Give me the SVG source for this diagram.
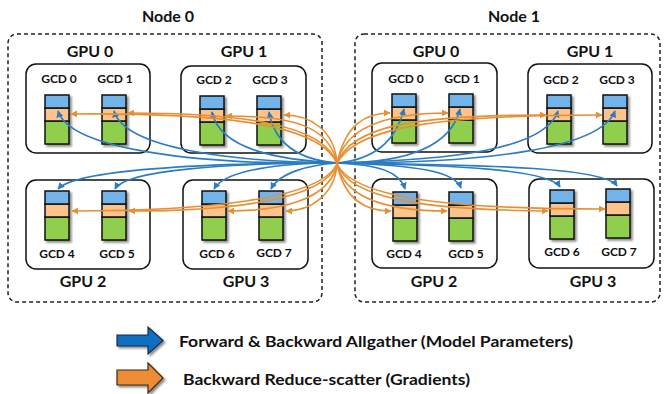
<svg xmlns="http://www.w3.org/2000/svg" width="665" height="394" viewBox="0 0 665 394">
<defs>
<style>
.node{fill:#fff;stroke:#222;stroke-width:1.5;stroke-dasharray:4 3}
.gpu{fill:#fff;stroke:#111;stroke-width:1.5}
.t{font-family:Lato,"Liberation Sans",sans-serif;font-weight:bold;fill:#111;text-anchor:middle}
.tn{font-size:16px}
.tg{font-size:16px}
.tc{font-size:12px}
.tl{font-family:Lato,"Liberation Sans",sans-serif;font-weight:bold;fill:#111;font-size:15px}
.b{fill:#72b4e9;stroke:#111;stroke-width:1.5}
.o{fill:#fcc38c;stroke:#111;stroke-width:1.5}
.g{fill:#8fcf4e;stroke:#111;stroke-width:1.5}
.cb{fill:none;stroke:#2b7cc2;stroke-width:1.6;marker-end:url(#ab)}
.co{fill:none;stroke:#e98f31;stroke-width:1.6;marker-end:url(#ao)}
</style>
<filter id="sh" x="-30%" y="-30%" width="160%" height="160%">
<feDropShadow dx="2" dy="2" stdDeviation="1.2" flood-color="#000" flood-opacity="0.45"/>
</filter>
<marker id="ab" viewBox="0 0 10 10" refX="9" refY="5" markerWidth="7" markerHeight="7" markerUnits="userSpaceOnUse" orient="auto">
<path d="M0,0 L10,5 L0,10 Z" fill="#2b7cc2"/>
</marker>
<marker id="ao" viewBox="0 0 10 10" refX="9" refY="5" markerWidth="7" markerHeight="7" markerUnits="userSpaceOnUse" orient="auto">
<path d="M0,0 L10,5 L0,10 Z" fill="#e98f31"/>
</marker>
<g id="stack">
<rect x="0" y="26" width="24" height="23" class="g"/>
<rect x="0" y="13" width="24" height="13" class="o"/>
<rect x="0" y="0" width="24" height="13" class="b"/>
</g>
</defs>
<rect width="665" height="394" fill="#fff"/>

<g id="node0">
<rect x="8" y="34" width="314" height="268" rx="9" class="node"/>
<text x="168" y="22" class="t tn">Node 0</text>
</g>
<g id="node1">
<rect x="355" y="34" width="305" height="268" rx="9" class="node"/>
<text x="514" y="22" class="t tn">Node 1</text>
</g>

<g id="n0gpu0">
<rect x="26" y="64" width="124" height="89" rx="10" class="gpu"/>
<text x="90" y="57" class="t tg">GPU 0</text>
<text x="59" y="83" class="t tc">GCD 0</text>
<text x="115" y="83" class="t tc">GCD 1</text>
<use href="#stack" x="45" y="95" filter="url(#sh)"/>
<use href="#stack" x="102" y="95" filter="url(#sh)"/>
</g>
<g id="n0gpu1">
<rect x="181" y="66" width="125" height="87" rx="10" class="gpu"/>
<text x="244" y="57" class="t tg">GPU 1</text>
<text x="214" y="84" class="t tc">GCD 2</text>
<text x="270" y="84" class="t tc">GCD 3</text>
<use href="#stack" x="200" y="96" filter="url(#sh)"/>
<use href="#stack" x="257" y="96" filter="url(#sh)"/>
</g>
<g id="n0gpu2">
<rect x="26" y="180" width="124" height="89" rx="10" class="gpu"/>
<text x="83" y="287" class="t tg">GPU 2</text>
<text x="57" y="258" class="t tc">GCD 4</text>
<text x="117" y="258" class="t tc">GCD 5</text>
<use href="#stack" x="45" y="191" filter="url(#sh)"/>
<use href="#stack" x="102" y="191" filter="url(#sh)"/>
</g>
<g id="n0gpu3">
<rect x="183" y="180" width="125" height="89" rx="10" class="gpu"/>
<text x="246" y="287" class="t tg">GPU 3</text>
<text x="217" y="258" class="t tc">GCD 6</text>
<text x="274" y="257" class="t tc">GCD 7</text>
<use href="#stack" x="202" y="191" filter="url(#sh)"/>
<use href="#stack" x="259" y="191" filter="url(#sh)"/>
</g>

<g id="n1gpu0">
<rect x="372" y="63" width="125" height="89" rx="10" class="gpu"/>
<text x="436" y="57" class="t tg">GPU 0</text>
<text x="406" y="83" class="t tc">GCD 0</text>
<text x="462" y="83" class="t tc">GCD 1</text>
<use href="#stack" x="392" y="94" filter="url(#sh)"/>
<use href="#stack" x="449" y="94" filter="url(#sh)"/>
</g>
<g id="n1gpu1">
<rect x="528" y="64" width="124" height="89" rx="10" class="gpu"/>
<text x="590" y="57" class="t tg">GPU 1</text>
<text x="561" y="84" class="t tc">GCD 2</text>
<text x="617" y="84" class="t tc">GCD 3</text>
<use href="#stack" x="547" y="95" filter="url(#sh)"/>
<use href="#stack" x="603" y="95" filter="url(#sh)"/>
</g>
<g id="n1gpu2">
<rect x="372" y="179" width="125" height="89" rx="10" class="gpu"/>
<text x="434" y="287" class="t tg">GPU 2</text>
<text x="404" y="258" class="t tc">GCD 4</text>
<text x="466" y="258" class="t tc">GCD 5</text>
<use href="#stack" x="393" y="192" filter="url(#sh)"/>
<use href="#stack" x="449" y="192" filter="url(#sh)"/>
</g>
<g id="n1gpu3">
<rect x="529" y="179" width="125" height="89" rx="10" class="gpu"/>
<text x="593" y="287" class="t tg">GPU 3</text>
<text x="562" y="256" class="t tc">GCD 6</text>
<text x="619" y="256" class="t tc">GCD 7</text>
<use href="#stack" x="550" y="190" filter="url(#sh)"/>
<use href="#stack" x="606" y="189" filter="url(#sh)"/>
</g>

<g id="connectors">
<path class="cb" d="M337,163 C200,165 70,150 58,111"/>
<path class="cb" d="M337,163 C240,162 125,150 114,111"/>
<path class="cb" d="M337,163 C280,160 220,150 212,112"/>
<path class="cb" d="M337,163 C300,160 275,145 269,112"/>
<path class="cb" d="M337,163 C200,163 75,170 58,189"/>
<path class="cb" d="M337,163 C230,163 125,170 115,189"/>
<path class="cb" d="M337,163 C280,163 225,170 214,189"/>
<path class="cb" d="M337,163 C310,165 280,172 271,189"/>
<path class="cb" d="M337,163 C370,160 395,145 404,109"/>
<path class="cb" d="M337,163 C400,163 450,150 460,109"/>
<path class="cb" d="M337,163 C450,160 545,150 558,111"/>
<path class="cb" d="M337,163 C480,163 600,150 615,111"/>
<path class="cb" d="M337,163 C380,165 400,172 405,189"/>
<path class="cb" d="M337,163 C420,165 455,172 461,188"/>
<path class="cb" d="M337,163 C460,165 550,170 560,187"/>
<path class="cb" d="M337,163 C500,165 605,168 617,186"/>

<path class="co" d="M337,164 C320,120 200,113 71,114"/>
<path class="co" d="M337,164 C325,122 230,113 128,113"/>
<path class="co" d="M337,164 C330,125 290,116 226,116"/>
<path class="co" d="M337,164 C335,130 310,115 284,115"/>
<path class="co" d="M337,164 C320,200 200,211 72,211"/>
<path class="co" d="M337,164 C325,200 230,211 129,211"/>
<path class="co" d="M337,164 C330,200 280,211 228,211"/>
<path class="co" d="M337,164 C335,195 310,211 286,211"/>
<path class="co" d="M337,164 C345,125 365,113 390,113"/>
<path class="co" d="M337,164 C345,125 390,113 448,113"/>
<path class="co" d="M337,164 C350,125 420,115 546,115"/>
<path class="co" d="M337,164 C355,125 450,115 602,115"/>
<path class="co" d="M337,164 C345,200 365,211 391,211"/>
<path class="co" d="M337,164 C345,200 390,211 447,211"/>
<path class="co" d="M337,164 C350,200 430,210 548,211"/>
<path class="co" d="M337,164 C355,200 460,209 605,209"/>
</g>

<g id="legend">
<path d="M117,335 H148 V327 L163,340.5 L148,354 V346 H117 Z" fill="#0a6fc2" stroke="#1b2a44" stroke-width="1.2" filter="url(#sh)"/>
<text x="179" y="347" class="tl" textLength="394" lengthAdjust="spacingAndGlyphs">Forward &amp; Backward Allgather (Model Parameters)</text>
<path d="M117,370 H148 V363 L163,378 L148,393 V385 H117 Z" fill="#ec8d34" stroke="#3b2a14" stroke-width="1.2" filter="url(#sh)"/>
<text x="183" y="385" class="tl" textLength="287" lengthAdjust="spacingAndGlyphs">Backward Reduce-scatter (Gradients)</text>
</g>
</svg>
